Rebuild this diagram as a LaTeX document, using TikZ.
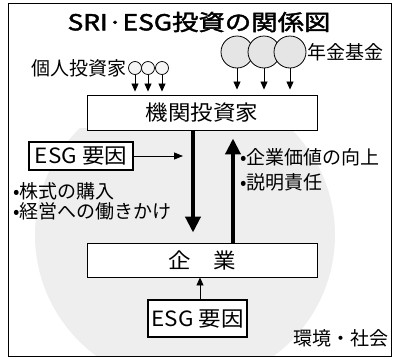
\documentclass[tikz,border=0pt]{standalone}
\usepackage{fontspec}
\setmainfont{Noto Sans CJK JP}
\newfontfamily\titlefont[FakeStretch=1.2,FakeBold=2]{Noto Sans CJK JP}
\newfontfamily\labfont{Noto Sans CJK JP}
\newfontfamily\boxfont[FakeStretch=1.07]{Noto Sans CJK JP}
\usetikzlibrary{arrows.meta}
\tikzset{
  lab/.style={font=\labfont\fontsize{19}{21}\selectfont, inner sep=1pt},
  boxtext/.style={font=\boxfont\fontsize{21}{23}\selectfont},
  mainbox/.style={draw, line width=0.9pt, fill=white, boxtext, inner sep=0pt},
  esgbox/.style={draw, line width=2pt, fill=white, font=\boxfont\fontsize{21}{23}\selectfont, inner sep=0pt},
  smallcirc/.style={circle, draw, line width=0.7pt, fill=gray!8, minimum size=13pt, inner sep=0pt},
  bigcirc/.style={circle, draw, line width=0.8pt, fill=gray!20, minimum size=32pt, inner sep=0pt},
  sarr/.style={line width=0.8pt, -{Triangle[width=7pt,length=8pt]}},
  thinarr/.style={line width=0.8pt, -{Triangle[width=7pt,length=9pt]}},
  bigarr/.style={line width=4pt, -{Triangle[width=15pt,length=16pt]}},
}
\begin{document}
\begin{tikzpicture}[x=1pt,y=-1pt]
\useasboundingbox (0,0) rectangle (394,359);
% environment / society background
\begin{scope}
  \clip (8,128) rectangle (391,356);
  \fill[gray!13] (185,235) circle[radius=150pt];
\end{scope}
% frame
\draw[line width=0.8pt] (8,3) rectangle (391,356);
% title
\node[font=\titlefont\fontsize{22}{24}\selectfont] (title) at (199,22) {SRI·ESG投資の関係図};
% institutional investors
\node[mainbox, minimum width=230pt, minimum height=35pt] (inv) at (202,112.5) {機関投資家};
% individual investors
\node[smallcirc] (p3) at (162,68) {};
\node[smallcirc] (p2) at (148,68) {};
\node[smallcirc] (p1) at (135,68) {};
\node[lab, anchor=east] (indiv) at (p1.west) {個人投資家};
\foreach \p in {p1,p2,p3}
  \draw[sarr, shorten >=3pt] (\p.south) -- (\p.south |- inv.north);
% pension funds
\node[bigcirc] (g1) at (237,52) {};
\node[bigcirc] (g2) at (264,52) {};
\node[bigcirc] (g3) at (290,52) {};
\node[lab, anchor=west] (pension) at (306,52) {年金基金};
\foreach \g in {g1,g2,g3}
  \draw[sarr, shorten >=5pt] (\g.south) -- (\g.south |- inv.north);
% company
\node[mainbox, minimum width=230pt, minimum height=34pt] (corp) at (202,260) {企　業};
% ESG factor (top)
\node[esgbox, minimum width=104pt, minimum height=28pt] (esg1) at (81,156) {ESG 要因};
\coordinate (esgtip) at (183,156);
\draw[thinarr] (esg1.east) -- (esgtip);
% big arrows
\draw[bigarr] ([xshift=-9pt]inv.south) -- ([xshift=-9pt,yshift=10pt]corp.north);
\draw[bigarr] ([xshift=31pt]corp.north) -- ([xshift=31pt,yshift=-8pt]inv.south);
% labels
\node[lab, anchor=west] (l1) at (12,191) {•株式の購入};
\node[lab, anchor=west] (l2) at (12,211) {•経営への働きかけ};
\node[lab, anchor=west] (r1) at (239,157) {•企業価値の向上};
\node[lab, anchor=west] (r2) at (239,182) {•説明責任};
% ESG factor (bottom)
\node[esgbox, line width=2.4pt, minimum width=99pt, minimum height=37pt] (esg2) at (197.5,318.5) {ESG 要因};
\draw[sarr] ([xshift=2.5pt]esg2.north) -- ([xshift=2.5pt]esg2.north |- corp.south);
% env / society
\node[lab, anchor=east] (env) at (390,338) {環境・社会};
\end{tikzpicture}
\end{document}
